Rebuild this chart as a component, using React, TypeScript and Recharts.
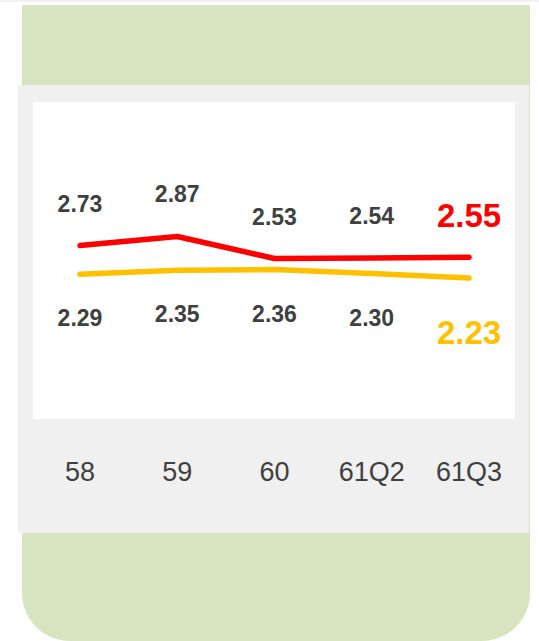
import React from 'react'
import { LineChart, Line, XAxis, YAxis, LabelList } from 'recharts'

const periods = ['58', '59', '60', '61Q2', '61Q3']
const redValues = [2.73, 2.87, 2.53, 2.54, 2.55]
const yellowValues = [2.29, 2.35, 2.36, 2.3, 2.23]

const RED = '#ff0000'
const YELLOW = '#ffc000'
const TEXT = '#404040'
const FONT = "Arial, 'Liberation Sans', sans-serif"

const data = periods.map((p, i) => ({ period: p, red: redValues[i], yellow: yellowValues[i] }))
const lastIndex = periods.length - 1

// value labels: above the red line, below the yellow one; the latest one is big and coloured
const makeLabel = (color: string, side: 'above' | 'below') => (props: any) => {
  const { x, y, value, index } = props
  const isLast = index === lastIndex
  const offset = side === 'above' ? -42 : isLast ? 54 : 44
  return (
    <text
      x={x}
      y={y + offset}
      textAnchor="middle"
      dominantBaseline="central"
      fontFamily={FONT}
      fontWeight="bold"
      fontSize={isLast ? 33 : 23}
      fill={isLast ? color : TEXT}
    >
      {Number(value).toFixed(2)}
    </text>
  )
}

export default function App() {
  return (
    <div style={{ position: 'absolute', left: 0, top: 0, width: 539, height: 641, overflow: 'hidden' }}>
      <div style={{ position: 'absolute', left: 0, top: 0, width: 539, height: 2, background: '#f2f2f2' }} />
      <div
        style={{
          position: 'absolute',
          left: 22,
          top: 5,
          width: 508,
          height: 636,
          background: '#d8e4bf',
          borderRadius: '0 0 48px 48px',
        }}
      />
      <div style={{ position: 'absolute', left: 18, top: 85, width: 511, height: 448, background: '#f0f0f0' }} />
      <div style={{ position: 'absolute', left: 33, top: 102, width: 482, height: 317, background: '#ffffff' }} />
      <div style={{ position: 'absolute', left: 0, top: 0 }}>
        <LineChart width={539} height={641} data={data} margin={{ top: 98, right: 70, left: 80, bottom: 158 }}>
          <XAxis
            dataKey="period"
            height={60}
            axisLine={false}
            tickLine={false}
            tickMargin={33}
            interval={0}
            tick={{ fontSize: 27, fill: TEXT, fontFamily: FONT }}
          />
          <YAxis hide domain={[0, 5]} />
          <Line
            type="linear"
            dataKey="red"
            stroke={RED}
            strokeWidth={5.5}
            strokeLinecap="round"
            strokeLinejoin="round"
            dot={false}
            isAnimationActive={false}
          >
            <LabelList dataKey="red" content={makeLabel(RED, 'above')} />
          </Line>
          <Line
            type="linear"
            dataKey="yellow"
            stroke={YELLOW}
            strokeWidth={5.5}
            strokeLinecap="round"
            strokeLinejoin="round"
            dot={false}
            isAnimationActive={false}
          >
            <LabelList dataKey="yellow" content={makeLabel(YELLOW, 'below')} />
          </Line>
        </LineChart>
      </div>
    </div>
  )
}
